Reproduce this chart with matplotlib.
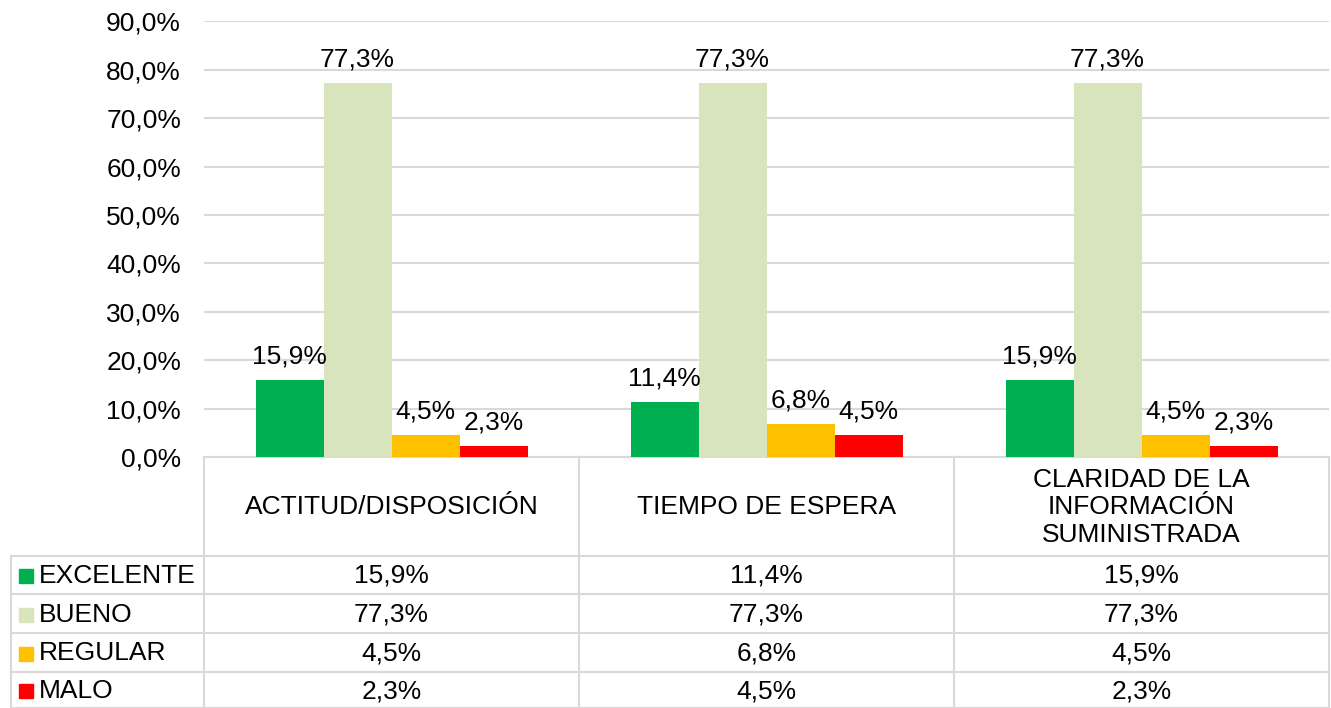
import numpy as np
import matplotlib.pyplot as plt

plt.rcParams['font.family'] = ['Liberation Sans', 'DejaVu Sans']

categories = ['ACTITUD/DISPOSICIÓN', 'TIEMPO DE ESPERA', 'CLARIDAD DE LA\nINFORMACIÓN\nSUMINISTRADA']
series = ['EXCELENTE', 'BUENO', 'REGULAR', 'MALO']
excelente = [15.9, 11.4, 15.9]
bueno = [77.3, 77.3, 77.3]
regular = [4.5, 6.8, 4.5]
malo = [2.3, 4.5, 2.3]
values = [excelente, bueno, regular, malo]
colors = ['#00B050', '#D8E4BC', '#FFC000', '#FF0000']


def pct(v):
    return f'{v:.1f}'.replace('.', ',') + '%'


W, H = 1331, 708
fig = plt.figure(figsize=(W / 100, H / 100), dpi=100)

# layout in pixels
left, right = 204, 1329
y0, y90 = 457, 21.4
tbl_left = 11
row_edges = [457, 556, 594, 633, 672, 708]
grid_c = '#D9D9D9'
fs = 19

ax = fig.add_axes([left / W, (H - y0) / H, (right - left) / W, (y0 - y90) / H])
ax.set_xlim(-0.5, 2.5)
ax.set_ylim(0, 90)
ax.set_yticks(np.arange(0, 91, 10))
ax.set_yticklabels([f'{t:.1f}'.replace('.', ',') + '%' for t in np.arange(0, 91, 10)], fontsize=fs)
ax.tick_params(axis='y', length=0, pad=16.5)
ax.set_xticks([])
for s in ax.spines.values():
    s.set_visible(False)
ax.yaxis.grid(True, color=grid_c, lw=1.5)
ax.set_axisbelow(True)
ax.patch.set_alpha(0)

bw = 68 / 375
x = np.arange(len(categories))
for j, (vals, c) in enumerate(zip(values, colors)):
    xs = x + (j - 1.5) * bw
    ax.bar(xs, vals, width=bw, color=c, zorder=2)
    for xi, v in zip(xs, vals):
        ax.annotate(pct(v), (xi, v), xytext=(0, 8.5), textcoords='offset points',
                    ha='center', va='bottom', fontsize=fs)

# data table
tb = fig.add_axes([0, 0, 1, 1], zorder=-1)
tb.set_xlim(0, W)
tb.set_ylim(H, 0)
tb.axis('off')
colw = (right - left) / 3
lw = 1.5
tb.plot([left, right], [row_edges[0], row_edges[0]], color=grid_c, lw=lw)
for ye in row_edges[1:]:
    tb.plot([tbl_left, right], [ye, ye], color=grid_c, lw=lw)
tb.plot([tbl_left, tbl_left], [row_edges[1], H], color=grid_c, lw=lw)
for i in range(4):
    xv = left + i * colw
    tb.plot([xv, xv], [row_edges[0], H], color=grid_c, lw=lw)

for i, cat in enumerate(categories):
    tb.text(left + (i + 0.5) * colw, (row_edges[0] + row_edges[1]) / 2 + 1, cat,
            ha='center', va='center', fontsize=fs, linespacing=1.2)

for r, (name, vals, c) in enumerate(zip(series, values, colors)):
    yc = (row_edges[r + 1] + row_edges[r + 2]) / 2 + 1
    tb.add_patch(plt.Rectangle((19, yc - 7), 14, 14, color=c))
    tb.text(39, yc, name, ha='left', va='center', fontsize=fs)
    for i, v in enumerate(vals):
        tb.text(left + (i + 0.5) * colw, yc, pct(v), ha='center', va='center', fontsize=fs)

fig.savefig('out.png', dpi=100)
